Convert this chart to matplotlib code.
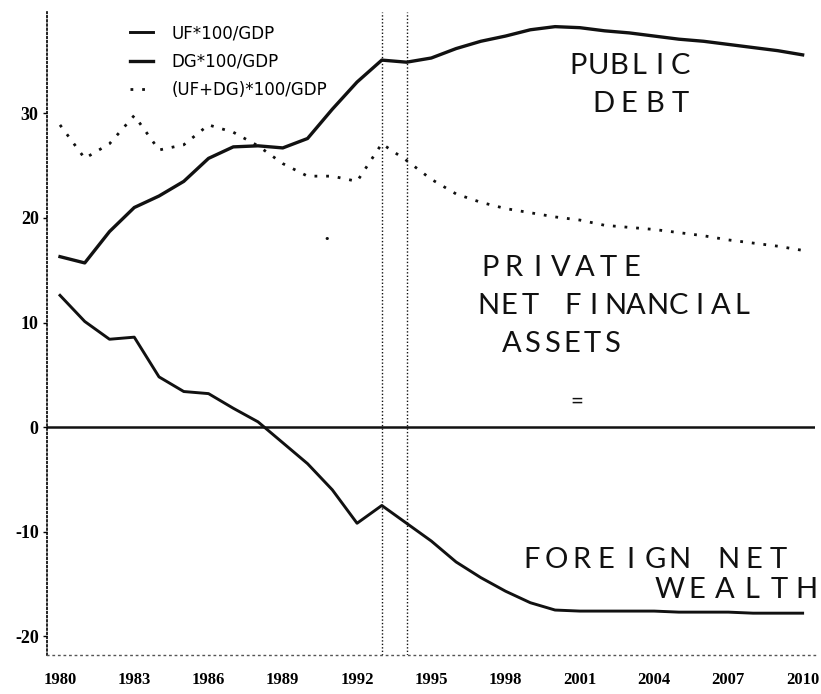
import matplotlib
matplotlib.use("Agg")
import matplotlib.pyplot as plt

# ---- data ----
years = list(range(1980, 2011))
uf = [12.6, 10.1, 8.4, 8.6, 4.8, 3.4, 3.2, 1.8, 0.5, -1.5,
      -3.5, -6.0, -9.2, -7.5, -9.2, -10.9, -12.9, -14.4, -15.7, -16.8,
      -17.5, -17.6, -17.6, -17.6, -17.6, -17.7, -17.7, -17.7, -17.8, -17.8,
      -17.8]
dg = [16.3, 15.7, 18.7, 21.0, 22.1, 23.5, 25.7, 26.8, 26.9, 26.7,
      27.6, 30.4, 33.0, 35.1, 34.9, 35.3, 36.2, 36.9, 37.4, 38.0,
      38.3, 38.2, 37.9, 37.7, 37.4, 37.1, 36.9, 36.6, 36.3, 36.0,
      35.6]
tot = [28.9, 25.7, 27.1, 29.8, 26.5, 27.0, 28.9, 28.2, 26.9, 25.2,
       24.0, 24.0, 23.5, 27.1, 25.5, 23.7, 22.3, 21.5, 20.9, 20.5,
       20.1, 19.8, 19.3, 19.1, 18.9, 18.6, 18.3, 17.9, 17.6, 17.3,
       16.9]
xticks = [1980, 1983, 1986, 1989, 1992, 1995, 1998, 2001, 2004, 2007, 2010]
yticks = [30, 20, 10, 0, -10, -20]
vlines = [1993, 1994]
labels = ["UF*100/GDP", "DG*100/GDP", "(UF+DG)*100/GDP"]

W, H = 821, 694
fig = plt.figure(figsize=(W / 100, H / 100), dpi=100)
ax = fig.add_axes([47 / W, 1 - 655 / H, (815 - 47) / W, (655 - 12) / H])
ax.set_xlim(1979.475, 2010.5)
ax.set_ylim(-21.8, 39.7)

ink = "#111111"
l1, = ax.plot(years, uf, color=ink, lw=2.1, solid_joinstyle="round")
l2, = ax.plot(years, dg, color=ink, lw=2.4, solid_joinstyle="round")
l3, = ax.plot(years, tot, color=ink, lw=2.0, linestyle=(0, (1, 3.2)))
ax.axhline(0, color=ink, lw=1.8)
for v in vlines:
    ax.axvline(v, color=ink, lw=1.0, linestyle=(0, (1, 1.5)))

for s in ["top", "right"]:
    ax.spines[s].set_visible(False)
ax.spines["left"].set_linestyle((0, (1, 1.5)))
ax.spines["left"].set_linewidth(1.2)
ax.spines["bottom"].set_linestyle((0, (1, 3)))
ax.spines["bottom"].set_linewidth(1.0)
ax.spines["bottom"].set_color("#555555")

ax.set_xticks(xticks)
ax.set_xticklabels([str(t) for t in xticks], family="Liberation Serif",
                   fontsize=12, fontweight="bold")
ax.set_yticks(yticks)
ax.set_yticklabels([str(t) for t in yticks], family="Liberation Serif",
                   fontsize=13, fontweight="bold")
ax.tick_params(axis="x", length=0, pad=12)
ax.tick_params(axis="y", length=3, width=1, pad=3)

leg = fig.legend([l1, l2, l3], labels, loc="upper left",
                 bbox_to_anchor=(130 / W, 1 - 24 / H), frameon=False,
                 handlelength=1.4, handletextpad=1.1, labelspacing=0.62,
                 borderpad=0, borderaxespad=0,
                 prop={"family": "DejaVu Sans", "size": 12})


def note(x0, x1, y, s, size=21):
    """Hand-lettered look: spread the letters of s evenly between x0 and x1."""
    n = len(s)
    step = (x1 - x0) / max(n - 1, 1)
    for i, ch in enumerate(s):
        if ch == " ":
            continue
        fig.text((x0 + i * step) / W, 1 - y / H, ch, fontsize=size,
                 family="Lato", color=ink, ha="center", va="center")


note(578, 680, 66, "PUBLIC")
note(603, 680, 104, "DEBT")
note(490, 632, 268, "PRIVATE")
note(488, 742, 306, "NET FINANCIAL")
note(512, 612, 344, "ASSETS")
fig.text(577 / W, 1 - 402 / H, "=", fontsize=16, family="Lato",
         color=ink, ha="center", va="center")
note(532, 778, 560, "FOREIGN NET")
note(670, 806, 590, "WEALTH")
fig.text(327 / W, 1 - 239 / H, "\u2022", fontsize=8, color=ink,
         ha="center", va="center")

fig.savefig("out.png", dpi=100, facecolor="white")
